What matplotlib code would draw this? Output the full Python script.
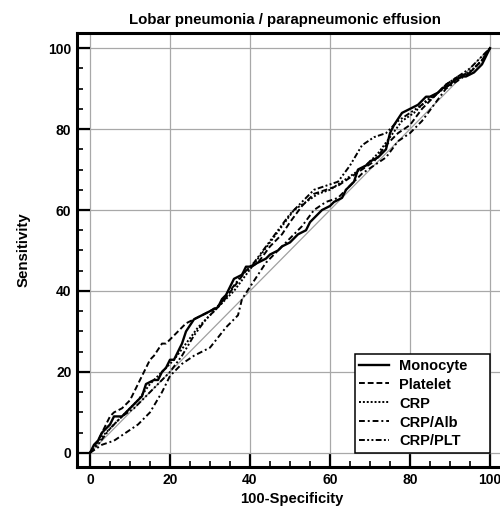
import matplotlib
matplotlib.use("Agg")
import matplotlib.pyplot as plt
from matplotlib.ticker import MultipleLocator

plt.rcParams['font.family'] = ['Liberation Sans', 'DejaVu Sans']

title = "Lobar pneumonia / parapneumonic effusion"
xlabel = "100-Specificity"
ylabel = "Sensitivity"
ticks = [0, 20, 40, 60, 80, 100]

mono_x = [0, 1, 2, 3, 4, 5, 6, 8, 9, 10, 11, 12, 13, 14, 16, 17, 18, 19, 20, 21, 22, 23, 24, 26, 28, 30, 32, 33, 34, 35, 36, 38, 39, 40, 42, 44, 45, 47, 48, 50, 52, 54, 55, 57, 58, 60, 61, 63, 64, 66, 67, 69, 70, 72, 73, 74, 75, 76, 78, 80, 82, 84, 85, 87, 88, 90, 91, 93, 94, 96, 97, 98, 99, 100]
mono_y = [0, 2, 3, 5, 6, 7, 9, 9, 10, 11, 12, 13, 14, 17, 18, 18, 20, 21, 23, 23, 25, 27, 30, 33, 34, 35, 36, 38, 39, 41, 43, 44, 46, 46, 47, 48, 49, 50, 51, 52, 54, 55, 57, 59, 60, 61, 62, 63, 65, 67, 70, 71, 72, 73, 74, 75, 79, 81, 84, 85, 86, 88, 88, 89, 90, 91, 92, 93, 93, 94, 95, 96, 98, 100]

plt_x = [0, 2, 4, 5, 6, 8, 10, 11, 12, 14, 15, 16, 18, 19, 20, 22, 24, 26, 28, 30, 33, 36, 39, 42, 45, 48, 50, 53, 56, 59, 62, 65, 68, 71, 74, 77, 80, 83, 86, 89, 92, 95, 98, 100]
plt_y = [0, 3, 7, 9, 10, 11, 13, 15, 17, 21, 23, 24, 27, 27, 28, 30, 32, 33, 34, 35, 37, 41, 45, 47, 51, 54, 57, 61, 64, 65, 66, 68, 70, 72, 76, 79, 81, 85, 88, 91, 93, 94, 97, 100]

crp_x = [0, 3, 6, 9, 12, 15, 18, 21, 24, 27, 30, 33, 36, 39, 42, 45, 48, 51, 54, 57, 60, 63, 66, 69, 72, 75, 78, 81, 84, 87, 90, 93, 96, 98, 100]
crp_y = [0, 4, 7, 10, 13, 17, 20, 23, 27, 31, 34, 37, 40, 44, 48, 52, 56, 60, 62, 64, 65, 67, 69, 71, 74, 78, 82, 84, 87, 89, 91, 93, 95, 97, 100]

alb_x = [0, 3, 6, 9, 12, 15, 18, 20, 23, 26, 30, 34, 37, 38, 40, 42, 44, 47, 50, 53, 56, 59, 62, 65, 68, 71, 74, 77, 80, 83, 86, 89, 92, 95, 98, 100]
alb_y = [0, 2, 3, 5, 7, 10, 15, 19, 22, 24, 26, 31, 34, 38, 41, 44, 47, 50, 53, 56, 60, 62, 63, 66, 69, 71, 73, 77, 79, 82, 86, 90, 92, 94, 97, 100]

pl_x = [0, 2, 5, 8, 11, 14, 17, 20, 23, 26, 29, 32, 35, 38, 41, 44, 47, 50, 53, 56, 59, 62, 65, 68, 71, 74, 77, 80, 83, 86, 89, 92, 95, 98, 100]
pl_y = [0, 2, 6, 9, 11, 14, 17, 20, 24, 29, 33, 36, 40, 44, 47, 51, 55, 59, 62, 65, 66, 67, 71, 76, 78, 79, 82, 84, 86, 88, 91, 93, 95, 98, 100]

fig = plt.figure(figsize=(5.0, 5.08), dpi=100)
ax = fig.add_axes([0.154, 0.0807, 0.858, 0.854])
ax.set_xlim(-3.25, 104)
ax.set_ylim(-3.5, 103.7)

ax.grid(True, color='#a8a8a8', linewidth=0.9)
ax.set_axisbelow(True)
ax.plot([0, 100], [0, 100], color='#a0a0a0', linewidth=0.9)

ax.plot(mono_x, mono_y, color='black', linewidth=1.7, linestyle='-', label='Monocyte')
ax.plot(plt_x, plt_y, color='black', linewidth=1.4, linestyle=(0, (3, 1.5)), label='Platelet')
ax.plot(crp_x, crp_y, color='black', linewidth=1.4, linestyle=(0, (1, 1)), label='CRP')
ax.plot(alb_x, alb_y, color='black', linewidth=1.4, linestyle=(0, (3, 1.5, 1, 1.5)), label='CRP/Alb')
ax.plot(pl_x, pl_y, color='black', linewidth=1.4, linestyle=(0, (3, 1.2, 1, 1.2, 1, 1.2)), label='CRP/PLT')

ax.set_xticks(ticks)
ax.set_yticks(ticks)
ax.xaxis.set_minor_locator(MultipleLocator(5))
ax.yaxis.set_minor_locator(MultipleLocator(5))
ax.tick_params(which='major', direction='in', length=9.5, width=1.6, labelsize=10, pad=4)
ax.tick_params(which='minor', direction='in', length=4.5, width=1.2)
ax.tick_params(top=False, right=False, which='both')
for lab in ax.get_xticklabels() + ax.get_yticklabels():
    lab.set_fontweight('bold')

for s in ['left', 'bottom', 'top', 'right']:
    ax.spines[s].set_linewidth(2.2)

fig.text(285 / 500, 1 - 20 / 508, title, fontsize=10.8, fontweight='bold',
         ha='center', va='center')
ax.set_xlabel(xlabel, fontsize=10.6, fontweight='bold', labelpad=4)
ax.set_ylabel(ylabel, fontsize=10.8, fontweight='bold', labelpad=13)

leg = ax.legend(loc='lower right', bbox_to_anchor=(66.25, 0, 33.75, 20), bbox_transform=ax.transData,
                mode='expand', borderaxespad=0, fancybox=False, framealpha=1, edgecolor='black',
                prop={'weight': 'bold', 'size': 10.5}, handlelength=2.05, handletextpad=0.7,
                labelspacing=0.34, borderpad=0.3)
leg.get_frame().set_linewidth(1.1)

fig.savefig('out.png', dpi=100)
